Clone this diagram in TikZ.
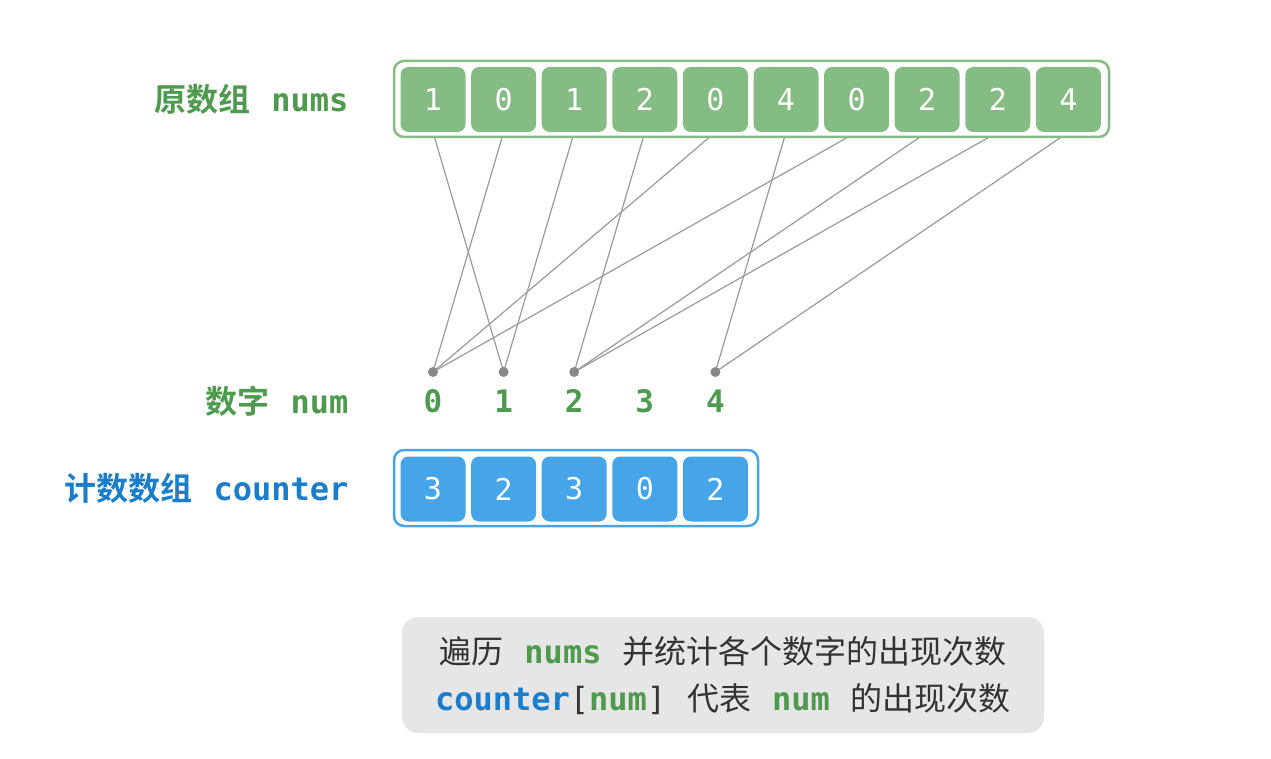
\documentclass[tikz,border=0pt]{standalone}
\usepackage{fontspec}
\setmonofont{DejaVu Sans Mono}
\newfontfamily\cjk{Noto Sans CJK SC}[BoldFont={Noto Sans CJK SC Bold}]
\definecolor{cgreen}{HTML}{84BC84}
\definecolor{tgreen}{HTML}{4E9A4E}
\definecolor{cblue}{HTML}{45A5E8}
\definecolor{tblue}{HTML}{1C7ECB}
\definecolor{lgray}{HTML}{9A9A9A}
\definecolor{dgray}{HTML}{888888}
\definecolor{capbg}{HTML}{E6E6E6}
\definecolor{captext}{HTML}{333333}
\pgfdeclarelayer{bg}
\pgfsetlayers{bg,main}
\newcommand{\gp}{\hspace{21pt}}
\begin{document}
\begin{tikzpicture}[x=1pt,y=-1pt,
  cellbase/.style={rounded corners=8pt, minimum width=65pt, minimum height=65pt, inner sep=0pt, text=white, font=\fontsize{30}{32}\selectfont\ttfamily},
  cellg/.style={cellbase, fill=cgreen},
  cellb/.style={cellbase, fill=cblue},
  outerg/.style={draw=cgreen, line width=2.5pt, fill=white, rounded corners=10pt},
  outerb/.style={draw=cblue, line width=2.5pt, fill=white, rounded corners=10pt},
  link/.style={draw=lgray, line width=1.2pt},
  dotn/.style={circle, fill=dgray, minimum size=10pt, inner sep=0pt},
  numlab/.style={text=tgreen, font=\fontsize{31}{33}\selectfont\ttfamily\bfseries},
  lab/.style={anchor=east, font=\fontsize{32}{34}\selectfont\bfseries},
  captxt/.style={text=captext, font=\fontsize{32}{34}\selectfont}
]
\useasboundingbox (0,0) rectangle (1271,759);
% top array
\draw[outerg] (394,61) rectangle (1109,137);
\foreach \v [count=\i from 0] in {1,0,1,2,0,4,0,2,2,4} {
  \node[cellg] (a\i) at (433+70.6*\i,99.5) {\v};
}
% number row
\foreach \i in {0,...,4} {
  \node[numlab] (n\i) at (433+70.6*\i,401) {\i};
}
\foreach \i in {0,1,2,4} {
  \node[dotn] (d\i) at (433+70.6*\i,372) {};
}
% counter array
\draw[outerb] (394,450) rectangle (758,526);
\foreach \v [count=\i from 0] in {3,2,3,0,2} {
  \node[cellb] (c\i) at (433+70.6*\i,489) {\v};
}
% links
\begin{pgfonlayer}{bg}
\foreach \i/\v in {0/1,1/0,2/1,3/2,4/0,5/4,6/0,7/2,8/2,9/4} {
  \draw[link] (a\i.south) -- (d\v.center);
}
\end{pgfonlayer}
% labels
\node[lab, text=tgreen] (l1) at (352,99) {{\cjk 原数组}\gp{\ttfamily nums}};
\node[lab, text=tgreen] (l2) at (352,401) {{\cjk 数字}\gp{\ttfamily num}};
\node[lab, text=tblue] (l3) at (352,488) {{\cjk 计数数组}\gp{\ttfamily counter}};
% caption
\draw[fill=capbg, draw=none, rounded corners=16pt] (402,617) rectangle (1044,733);
\node[captxt] (t1) at (723,651) {{\cjk 遍历}\gp{\ttfamily\bfseries\color{tgreen}nums}\gp{\cjk 并统计各个数字的出现次数}};
\node[captxt] (t2) at (723,699) {{\ttfamily\bfseries\color{tblue}counter}{\ttfamily[}{\ttfamily\bfseries\color{tgreen}num}{\ttfamily]}\gp{\cjk 代表}\gp{\ttfamily\bfseries\color{tgreen}num}\gp{\cjk 的出现次数}};
\end{tikzpicture}
\end{document}
